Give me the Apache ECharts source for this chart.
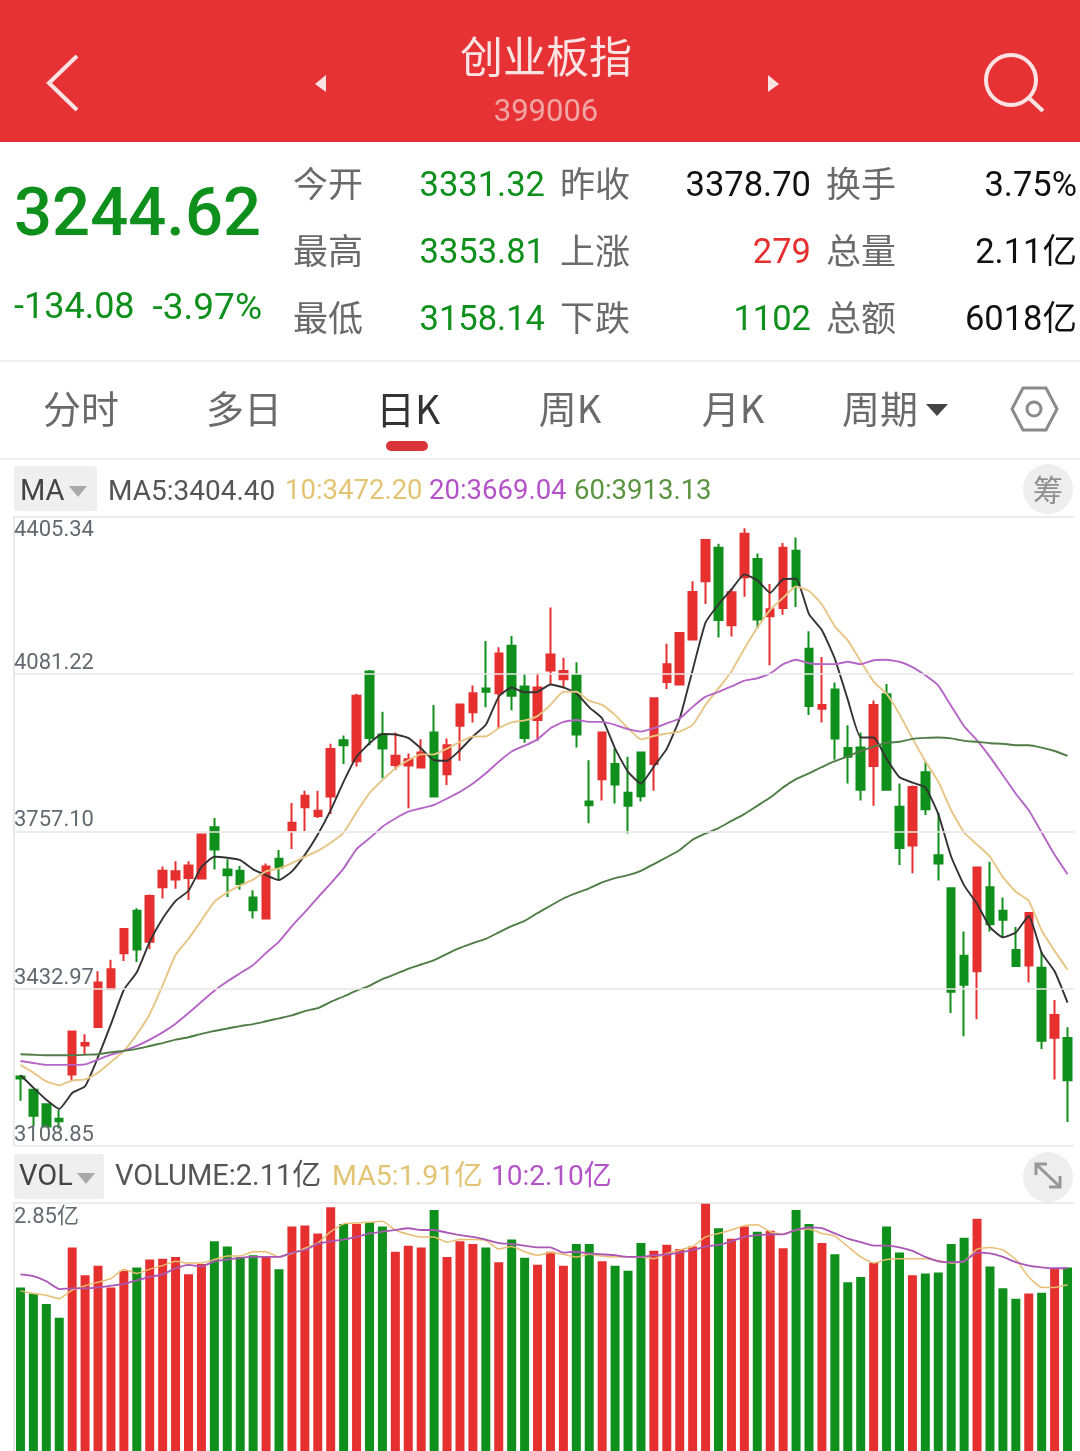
<!DOCTYPE html>
<html>
<head>
<meta charset="utf-8">
<title>创业板指</title>
<style>
  html, body { margin: 0; padding: 0; background: #fff; }
  #chart { width: 1080px; height: 1451px; }
</style>
<script src="https://cdn.jsdelivr.net/npm/echarts@6/dist/echarts.min.js"></script>
</head>
<body>
<div id="chart"></div>
<script>
// values
var opens = [3252,3225,3195,3165,3256,3316,3354,3433,3506,3594,3530,3642,3658,3661,3660,3766,3679,3676,3621,3578,3701,3759,3807,3789,3829,3945,3902,4087,3957,3894,3893,3889,3961,3875,3975,4003,4052,4042,4140,4056,3987,4089,4071,4079,3819,3865,3896,3837,3920,3896,4065,4060,4153,4273,4342,4182,4281,4319,4201,4218,4336,4134,4010,4050,3929,3930,3892,4040,3808,3728,3879,3708,3640,3501,3469,3642,3594,3513,3481,3476,3332,3331.32];
var closes = [3248,3171,3149,3160,3345,3321,3446,3473,3556,3514,3624,3676,3675,3687,3751,3720,3667,3649,3595,3685,3683,3775,3831,3800,3927,3935,4037,3950,3928,3913,3906,3920,3829,3935,4019,4042,4045,4124,4037,3950,4054,4122,4088,3957,3811,3961,3854,3810,3830,4032,4102,4166,4251,4358,4193,4250,4371,4194,4215,4342,4262,4016,4018,3949,3911,3843,4018,3843,3723,3849,3803,3691,3427,3441,3683,3566,3575,3480,3589,3326,3378.7,3244.62];
var lows = [3202,3149,3148,3145,3242,3297,3354,3433,3490,3488,3515,3619,3639,3616,3660,3679,3622,3637,3578,3578,3658,3721,3758,3785,3793,3896,3891,3935,3867,3884,3805,3887,3827,3853,3903,3982,4013,3970,4007,3940,3944,4059,4052,3930,3774,3821,3815,3753,3819,3841,4051,4058,4153,4226,4157,4159,4241,4176,4100,4204,4220,3997,3982,3905,3856,3821,3810,3843,3688,3671,3791,3656,3383,3335,3370,3551,3538,3480,3446,3309,3246,3158.14];
var highs = [3255,3225,3197,3183,3346,3339,3469,3493,3557,3599,3627,3685,3696,3696,3753,3785,3700,3686,3636,3691,3719,3816,3841,3841,3938,3955,4041,4090,4004,3961,3918,3947,4018,3949,4021,4058,4150,4137,4160,4082,4084,4219,4115,4106,3904,3961,3928,3911,3920,4032,4144,4167,4273,4359,4350,4258,4382,4330,4267,4352,4363,4170,4117,4064,3976,3961,4027,4061,3856,3852,3902,3796,3640,3551,3685,3695,3621,3560,3591,3509,3410,3353.81];

var ma5 = [3255,3229,3204,3185,3218,3232,3292,3360,3431,3467,3530,3578,3614,3635,3684,3705,3703,3698,3679,3667,3657,3675,3709,3751,3801,3860,3911,3939,3958,3957,3950,3928,3904,3903,3925,3953,3977,4035,4054,4044,4045,4060,4054,4042,4013,3990,3928,3880,3856,3891,3928,3990,4090,4188,4225,4256,4287,4275,4249,4277,4278,4205,4172,4113,4029,3951,3951,3907,3869,3858,3848,3793,3705,3646,3608,3560,3539,3549,3583,3507,3469,3404.40];
var ma10 = [3276,3260,3242,3234,3244,3246,3260,3282,3305,3339,3381,3440,3503,3536,3574,3612,3631,3646,3658,3675,3681,3692,3705,3717,3734,3755,3797,3836,3863,3887,3904,3916,3916,3928,3942,3953,3953,3970,3982,3986,3995,4018,4045,4045,4027,4018,3997,3970,3947,3954,3959,3963,3977,4018,4052,4087,4134,4177,4214,4239,4262,4253,4225,4180,4151,4108,4066,4041,3999,3949,3902,3860,3801,3755,3730,3705,3663,3633,3614,3553,3511,3472.20];
var ma20 = [3284,3280,3276,3276,3276,3277,3287,3297,3305,3315,3328,3343,3361,3383,3406,3429,3448,3465,3482,3507,3530,3562,3591,3621,3650,3681,3721,3743,3767,3784,3798,3805,3812,3825,3839,3856,3877,3901,3922,3934,3947,3970,3983,3987,3983,3983,3977,3968,3963,3970,3980,3990,4014,4035,4045,4056,4068,4073,4083,4102,4111,4104,4102,4102,4107,4102,4110,4111,4107,4096,4079,4058,4016,3974,3945,3911,3873,3835,3801,3755,3709,3669.04];
var ma60 = [3298,3297,3296,3296,3296,3297,3298,3302,3305,3309,3315,3321,3328,3333,3340,3346,3351,3356,3360,3366,3372,3378,3387,3393,3406,3417,3429,3439,3453,3463,3474,3483,3492,3505,3517,3527,3536,3549,3562,3573,3589,3604,3619,3630,3640,3652,3661,3667,3676,3690,3704,3719,3740,3753,3764,3779,3793,3810,3827,3848,3865,3877,3890,3902,3912,3923,3932,3940,3942,3948,3950,3951,3949,3944,3942,3939,3938,3935,3935,3930,3923,3913.13];

// volume in 亿
var volumes = [1.88,1.81,1.69,1.53,2.34,2.02,2.13,1.88,2.07,2.11,2.20,2.21,2.23,2.03,2.15,2.41,2.35,2.23,2.25,2.23,2.09,2.58,2.59,2.50,2.80,2.61,2.61,2.63,2.58,2.29,2.36,2.34,2.77,2.23,2.41,2.38,2.34,2.17,2.43,2.22,2.14,2.29,2.13,2.38,2.38,2.18,2.13,2.07,2.39,2.30,2.37,2.32,2.35,2.85,2.56,2.44,2.58,2.52,2.53,2.33,2.77,2.61,2.39,2.26,1.94,2.00,2.16,2.58,2.28,2.02,2.04,2.05,2.38,2.45,2.67,2.12,1.87,1.75,1.81,1.82,2.10,2.11];
var volMa5 = [1.84,1.81,1.79,1.75,1.85,1.90,1.94,1.98,2.09,2.04,2.09,2.13,2.18,2.16,2.16,2.20,2.24,2.24,2.29,2.29,2.23,2.27,2.33,2.39,2.52,2.61,2.62,2.63,2.64,2.54,2.49,2.46,2.46,2.40,2.43,2.43,2.42,2.32,2.35,2.29,2.25,2.28,2.26,2.23,2.26,2.24,2.23,2.23,2.23,2.21,2.27,2.31,2.35,2.46,2.50,2.54,2.59,2.60,2.52,2.49,2.54,2.55,2.50,2.47,2.35,2.23,2.16,2.20,2.21,2.21,2.21,2.19,2.16,2.18,2.32,2.34,2.31,2.20,2.00,1.88,1.88,1.91];
var volMa10 = [2.03,2.01,1.95,1.86,1.87,1.87,1.88,1.90,1.92,1.96,2.00,2.03,2.10,2.14,2.12,2.18,2.20,2.22,2.23,2.23,2.23,2.28,2.31,2.38,2.41,2.43,2.46,2.50,2.52,2.54,2.56,2.54,2.54,2.51,2.48,2.46,2.43,2.39,2.38,2.36,2.34,2.34,2.28,2.29,2.27,2.26,2.25,2.23,2.23,2.25,2.26,2.28,2.31,2.35,2.37,2.41,2.46,2.48,2.49,2.49,2.54,2.57,2.56,2.50,2.44,2.40,2.36,2.36,2.34,2.30,2.23,2.18,2.17,2.18,2.28,2.27,2.23,2.17,2.13,2.11,2.10,2.10];

var priceTicks = [3108.85, 3432.97, 3757.10, 4081.22, 4405.34];
var volTicks = [2.85];

var days = opens.map(function(v, i) { return i; });

var RED = '#e5302f';
var GREEN = '#0f8f1b';
var CJK = '"Noto Sans CJK SC", sans-serif';
var NUM = 'Roboto, "Noto Sans CJK SC", sans-serif';

function txt(x, y, s, size, color, align, font, weight) {
  // Roboto sits a little high next to the CJK face
  var dy = font === NUM ? size * 0.09 : 0;
  return {
    type: 'text', x: x, y: y + dy, silent: true,
    style: {
      text: s, fontSize: size, fill: color, fontFamily: font || CJK,
      fontWeight: weight || 'normal', textAlign: align || 'left', textVerticalAlign: 'middle'
    }
  };
}
function box(x, y, w, h, color, r) {
  return { type: 'rect', silent: true, shape: { x: x, y: y, width: w, height: h, r: r || 0 }, style: { fill: color } };
}
function poly(points, color, width) {
  return { type: 'polyline', silent: true, shape: { points: points }, style: { stroke: color, fill: null, lineWidth: width } };
}
function tri(points, color) {
  return { type: 'polygon', silent: true, shape: { points: points }, style: { fill: color } };
}
function ring(cx, cy, r, color, width) {
  return { type: 'circle', silent: true, shape: { cx: cx, cy: cy, r: r }, style: { stroke: color, fill: null, lineWidth: width } };
}
function disc(cx, cy, r, color) {
  return { type: 'circle', silent: true, shape: { cx: cx, cy: cy, r: r }, style: { fill: color } };
}

var LABEL = '#6a6a6a';
var chrome = [
  // red title bar
  box(0, 0, 1080, 142, '#e63234'),
  txt(546, 57, '创业板指', 43, '#fbe3e3', 'center'),
  txt(546, 110, '399006', 31, '#f2a5a5', 'center', NUM),
  poly([[77, 56], [49, 83], [77, 110]], '#fbe3e3', 4),
  tri([[326, 75], [326, 92], [315, 84]], '#fbe3e3'),
  tri([[768, 75], [768, 92], [779, 84]], '#fbe3e3'),
  ring(1011, 80, 25, '#fbe3e3', 4),
  poly([[1029, 98], [1043, 111]], '#fbe3e3', 4),

  // quote panel
  txt(14, 212, '3244.62', 67, GREEN, 'left', NUM, 500),
  txt(14, 306, '-134.08', 36, GREEN, 'left', NUM),
  txt(262, 306, '-3.97%', 37, GREEN, 'right', NUM),

  txt(293, 184, '今开', 35, LABEL),
  txt(293, 251, '最高', 35, LABEL),
  txt(293, 318, '最低', 35, LABEL),
  txt(545, 184, '3331.32', 34.5, GREEN, 'right', NUM),
  txt(545, 251, '3353.81', 34.5, GREEN, 'right', NUM),
  txt(545, 318, '3158.14', 34.5, GREEN, 'right', NUM),

  txt(560, 184, '昨收', 35, LABEL),
  txt(560, 251, '上涨', 35, LABEL),
  txt(560, 318, '下跌', 35, LABEL),
  txt(811, 184, '3378.70', 34.5, '#111', 'right', NUM),
  txt(811, 251, '279', 34.5, RED, 'right', NUM),
  txt(811, 318, '1102', 34.5, GREEN, 'right', NUM),

  txt(826, 184, '换手', 35, LABEL),
  txt(826, 251, '总量', 35, LABEL),
  txt(826, 318, '总额', 35, LABEL),
  txt(1077, 184, '3.75%', 34.5, '#111', 'right', NUM),
  txt(1077, 251, '2.11亿', 34.5, '#111', 'right', NUM),
  txt(1077, 318, '6018亿', 34.5, '#111', 'right', NUM),

  box(0, 360, 1080, 1.5, '#ececec'),

  // period tabs
  txt(81, 409, '分时', 38, LABEL, 'center'),
  txt(244, 409, '多日', 38, LABEL, 'center'),
  txt(408, 409, '日K', 39, '#333', 'center'),
  txt(570, 409, '周K', 38, LABEL, 'center'),
  txt(733, 409, '月K', 38, LABEL, 'center'),
  txt(880, 409, '周期', 38, LABEL, 'center'),
  tri([[926, 404], [948, 404], [937, 416]], '#444'),
  { type: 'polygon', silent: true, shape: { points: [[1012, 409], [1023, 388], [1046, 388], [1057, 409], [1046, 430], [1023, 430]] }, style: { stroke: '#8a8a8a', fill: null, lineWidth: 3 } },
  ring(1034, 409, 7, '#8a8a8a', 3),
  box(386, 441, 42, 10, '#d8343a', 5),
  box(0, 458, 1080, 1.5, '#ececec'),

  // MA legend
  box(14, 466, 83, 45, '#efefef', 3),
  txt(20, 490, 'MA', 29, '#444', 'left', NUM),
  tri([[69, 486], [87, 486], [78, 497]], '#a8a8a8'),
  txt(108, 490, 'MA5:3404.40', 28, '#555', 'left', NUM),
  txt(285, 490, '10:3472.20', 27.5, '#e3c474', 'left', NUM),
  txt(429, 490, '20:3669.04', 27.5, '#b452c8', 'left', NUM),
  txt(574, 490, '60:3913.13', 27.5, '#5b9440', 'left', NUM),
  disc(1048, 489, 25, '#eeeeee'),
  txt(1048, 490, '筹', 30, '#8f8f8f', 'center'),

  // VOL legend
  box(14, 1154, 90, 45, '#efefef', 3),
  txt(19, 1175, 'VOL', 29, '#444', 'left', NUM),
  tri([[77, 1173], [95, 1173], [86, 1184]], '#a8a8a8'),
  txt(115, 1175, 'VOLUME:2.11亿', 29, '#555', 'left', NUM),
  txt(332, 1175, 'MA5:1.91亿', 28.5, '#e3c474', 'left', NUM),
  txt(491, 1175, '10:2.10亿', 28, '#b452c8', 'left', NUM),
  disc(1048, 1177, 25, '#eeeeee'),
  poly([[1037, 1165], [1059, 1186]], '#979797', 3),
  poly([[1036, 1175], [1036, 1164], [1047, 1164]], '#979797', 3),
  poly([[1060, 1176], [1060, 1187], [1049, 1187]], '#979797', 3)
];

function maLine(name, data, color, xi, yi, w) {
  return {
    name: name, type: 'line', data: data, xAxisIndex: xi, yAxisIndex: yi,
    symbol: 'none', smooth: 0.15, lineStyle: { color: color, width: w || 1.9 }, z: 5
  };
}

var chart = echarts.init(document.getElementById('chart'));
chart.setOption({
  animation: false,
  backgroundColor: '#fff',
  graphic: { elements: chrome },
  grid: [
    { left: 14, width: 1060, top: 517, height: 629 },
    { left: 14, width: 1060, top: 1203, height: 248 }
  ],
  xAxis: [
    { type: 'category', data: days, gridIndex: 0, axisLabel: { show: false }, axisTick: { show: false }, axisLine: { show: false } },
    { type: 'category', data: days, gridIndex: 1, axisLabel: { show: false }, axisTick: { show: false }, axisLine: { show: false } }
  ],
  yAxis: [
    {
      type: 'value', gridIndex: 0, min: priceTicks[0], max: priceTicks[4],
      axisLine: { show: true, lineStyle: { color: '#e2e2e2', width: 1.5 } },
      axisTick: { show: false, customValues: priceTicks },
      splitLine: { show: true, lineStyle: { color: '#e6e6e6', width: 1.5 } },
      axisLabel: {
        inside: true, margin: 0, customValues: priceTicks,
        fontFamily: NUM, fontSize: 22, lineHeight: 21, padding: [3, 0, 0, 0], color: '#626a70',
        verticalAlign: 'bottom', verticalAlignMaxLabel: 'top',
        formatter: function(v) { return v.toFixed(2); }
      },
      z: 6
    },
    {
      type: 'value', gridIndex: 1, min: 0, max: volTicks[0],
      axisLine: { show: true, lineStyle: { color: '#e2e2e2', width: 1.5 } },
      axisTick: { show: false, customValues: volTicks },
      splitLine: { show: true, lineStyle: { color: '#e6e6e6', width: 1.5 } },
      axisLabel: {
        inside: true, margin: 0, customValues: volTicks,
        fontFamily: NUM, fontSize: 22, padding: [3, 0, 0, 0], color: '#626a70',
        verticalAlign: 'top', verticalAlignMaxLabel: 'top',
        formatter: function(v) { return v.toFixed(2) + '亿'; }
      },
      z: 6
    }
  ],
  series: [
    {
      name: 'K', type: 'candlestick', xAxisIndex: 0, yAxisIndex: 0, barWidth: 8,
      data: days.map(function(i) { return [opens[i], closes[i], lows[i], highs[i]]; }),
      itemStyle: { color: RED, color0: GREEN, borderColor: RED, borderColor0: GREEN, borderWidth: 2 }
    },
    maLine('MA5', ma5, '#333333', 0, 0),
    maLine('MA10', ma10, '#e6c585', 0, 0),
    maLine('MA20', ma20, '#b565c6', 0, 0),
    maLine('MA60', ma60, '#4f7d46', 0, 0),
    {
      name: 'VOLUME', type: 'bar', xAxisIndex: 1, yAxisIndex: 1, barWidth: 9,
      data: days.map(function(i) {
        return { value: volumes[i], itemStyle: { color: closes[i] >= opens[i] ? RED : GREEN } };
      })
    },
    maLine('VOL MA5', volMa5, '#e8bd72', 1, 1, 1.5),
    maLine('VOL MA10', volMa10, '#a956b4', 1, 1, 1.8)
  ]
});
window.addEventListener('resize', function() { chart.resize(); });
</script>
</body>
</html>
